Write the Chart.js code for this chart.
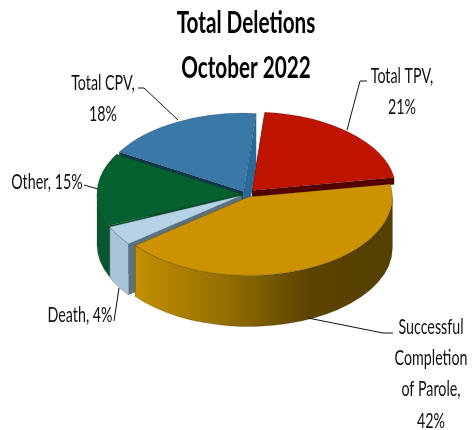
<!DOCTYPE html>
<html>
<head>
<meta charset="utf-8">
<script src="https://cdn.jsdelivr.net/npm/chart.js@4/dist/chart.umd.js"></script>
<style>
html,body{margin:0;padding:0;background:#fff}
canvas{display:block;filter:blur(.45px)}
</style>
</head>
<body>
<canvas id="c" width="472" height="430"></canvas>
<script>
const categories = ["Total TPV", "Successful Completion of Parole", "Death", "Other", "Total CPV"];
const values = [21, 42, 4, 15, 18];
const titleLines = ["Total Deletions", "October 2022"];
const labelLines = [
  ["Total TPV,", "21%"],
  ["Successful", "Completion", "of Parole,", "42%"],
  ["Death, 4%"],
  ["Other, 15%"],
  ["Total CPV,", "18%"]
];
const topColors = ["#bf1400", "#cc9200", "#b6d3e6", "#04602f", "#3a78a8"];
const explode = [9, 6, 5, 5, 5];
const outerWall = ["#7a0c00", null, "#a9c4d8", "#07582f", "#2a5d85"];
const startWall = ["#7a0c00", "#8a6400", "#5d7280", "#07582f", "#123650"];
const endWall = ["#520000", "#8a6400", "#5d7280", "#07582f", "#2a6a9a"];
const labelBoxes = [
  {x: 402, y: [76, 107], anchor: [[367, 81], [360, 81], [347, 130]]},
  {x: 431, y: [327, 358, 389, 421], anchor: [[393, 333], [383, 333], [308, 318]]},
  {x: 80, y: [315], anchor: [[114, 321], [119, 288]]},
  {x: 47, y: [182], anchor: [[84, 185], [98, 189]]},
  {x: 103, y: [83, 114], anchor: [[138, 88], [144, 88], [178, 120]]}
];
const squash = 0.545, depth = 51;
const cutDepth = [7, 51, 51, 51, 51];
const textFont = 'Lato, "Liberation Sans", sans-serif';
const titleSqueeze = 0.69, labelSqueeze = 0.68;

const pie3d = {
  id: "pie3d",
  afterDatasetsUpdate(chart) {
    const arcs = chart.getDatasetMeta(0).data;
    arcs.forEach((arc, i) => {
      const mid = (arc.startAngle + arc.endAngle) / 2;
      const base = chart.chartArea;
      const cx = (base.left + base.right) / 2, cy = (base.top + base.bottom) / 2;
      arc.x = cx + explode[i] * Math.cos(mid);
      arc.y = cy + explode[i] * Math.sin(mid);
    });
  },
  beforeDraw(chart) {
    const t = chart.titleBlock;
    if (t && !t._squeezed) {
      t._squeezed = true;
      const draw = t.draw.bind(t);
      t.draw = function () {
        const ctx = t.ctx, mid = (t.left + t.right) / 2;
        ctx.save();
        ctx.translate(mid, 0);
        ctx.scale(titleSqueeze, 1);
        ctx.translate(-mid, 0);
        draw();
        ctx.restore();
      };
    }
  },
  beforeDatasetsDraw(chart) {
    const ctx = chart.ctx, a = chart.chartArea;
    const cx = (a.left + a.right) / 2, cy = (a.top + a.bottom) / 2;
    const arcs = chart.getDatasetMeta(0).data;
    const py = y => cy + (y - cy) * squash;
    const order = arcs.map((arc, i) => i).sort((p, q) => {
      const m = k => Math.sin((arcs[k].startAngle + arcs[k].endAngle) / 2);
      return m(p) - m(q);
    });
    const norm = v => { const t = Math.PI * 2; return ((v % t) + t) % t; };
    order.forEach(i => {
      const arc = arcs[i], r = arc.outerRadius;
      const ax = arc.x, ay = py(arc.y), ry = r * squash;
      const s = arc.startAngle, e = arc.endAngle;
      const wall = (ang, color) => {
        const ex = ax + r * Math.cos(ang), ey = ay + ry * Math.sin(ang);
        ctx.beginPath();
        ctx.moveTo(ax, ay); ctx.lineTo(ex, ey);
        ctx.lineTo(ex, ey + cutDepth[i]); ctx.lineTo(ax, ay + cutDepth[i]);
        ctx.closePath(); ctx.fillStyle = color; ctx.fill();
      };
      wall(s, startWall[i]);
      wall(e, endWall[i]);
      // outer wall: only the part on the near half of the ellipse
      let s2 = s, e2 = e;
      if (Math.sin(s) < 0) s2 = s + (Math.PI * 2 - norm(s));
      if (Math.sin(e) < 0) e2 = e - (norm(e) - Math.PI);
      if (e2 <= s2) return;
      ctx.beginPath();
      ctx.ellipse(ax, ay, r, ry, 0, s2, e2);
      ctx.ellipse(ax, ay + depth, r, ry, 0, e2, s2, true);
      ctx.closePath();
      if (outerWall[i]) {
        ctx.fillStyle = outerWall[i];
      } else {
        const g = ctx.createLinearGradient(ax - r * 0.78, 0, ax + r, 0);
        g.addColorStop(0, "#c48e00");
        g.addColorStop(0.34, "#957000");
        g.addColorStop(0.67, "#5c4400");
        g.addColorStop(1, "#554000");
        ctx.fillStyle = g;
      }
      ctx.fill();
      ctx.strokeStyle = "rgba(30,20,0,.35)";
      ctx.lineWidth = 0.6;
      ctx.stroke();
    });
    ctx.save();
    ctx.translate(cx, cy);
    ctx.scale(1, squash);
    ctx.translate(-cx, -cy);
  },
  afterDatasetsDraw(chart) {
    const ctx = chart.ctx;
    ctx.restore();
    ctx.save();
    ctx.fillStyle = "#111";
    ctx.strokeStyle = "#111";
    ctx.lineWidth = 1;
    ctx.font = "21px " + textFont;
    ctx.textAlign = "center";
    ctx.textBaseline = "middle";
    labelBoxes.forEach((box, i) => {
      labelLines[i].forEach((t, j) => {
        ctx.save();
        ctx.translate(box.x, box.y[j]);
        ctx.scale(labelSqueeze, 1);
        ctx.fillText(t, 0, 0);
        ctx.restore();
      });
      ctx.beginPath();
      box.anchor.forEach((p, j) => j ? ctx.lineTo(p[0], p[1]) : ctx.moveTo(p[0], p[1]));
      ctx.stroke();
    });
    ctx.restore();
  }
};

new Chart(document.getElementById("c"), {
  type: "pie",
  plugins: [pie3d],
  data: {
    labels: categories,
    datasets: [{
      data: values,
      backgroundColor: topColors,
      borderColor: "rgba(0,0,0,.3)",
      borderWidth: 0.7,
      clip: false
    }]
  },
  options: {
    responsive: false,
    animation: false,
    events: [],
    rotation: 5,
    radius: 144,
    layout: {padding: {left: 20, right: 0, top: 0, bottom: 133}},
    plugins: {
      legend: {display: false},
      tooltip: {enabled: false},
      title: {
        display: true,
        text: titleLines,
        color: "#000",
        font: {family: textFont, size: 30, weight: "bold", lineHeight: 1.5},
        padding: {top: 1, bottom: 0}
      }
    }
  }
});
</script>
</body>
</html>
